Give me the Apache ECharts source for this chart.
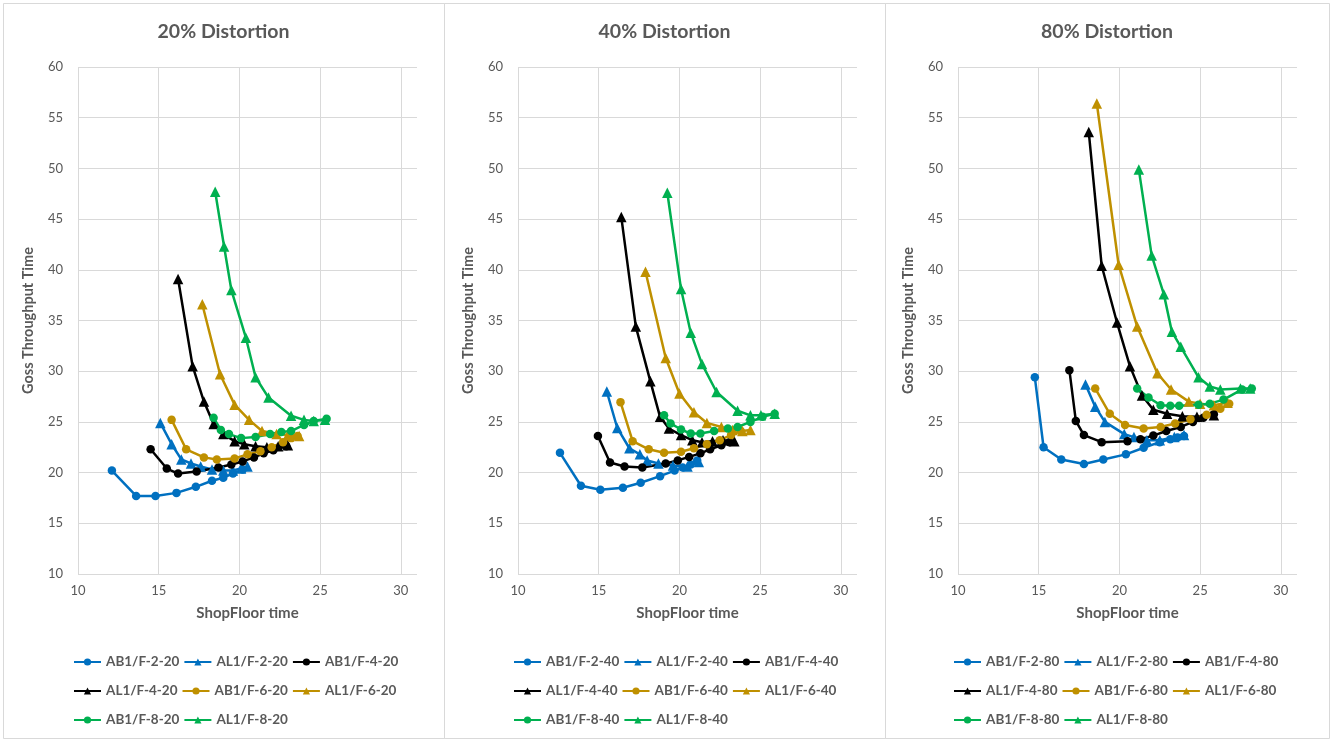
<!DOCTYPE html>
<html><head><meta charset="utf-8">
<script src="https://cdn.jsdelivr.net/npm/echarts@6/dist/echarts.min.js"></script>
<style>html,body{margin:0;padding:0;background:#fff}#c{width:1332px;height:744px}</style>
</head><body><div id="c"></div>
<script>
const panelTitles = ['20% Distortion', '40% Distortion', '80% Distortion'];
const panelSuffixes = ['20', '40', '80'];
const seriesBaseNames = ['AB1/F-2', 'AL1/F-2', 'AB1/F-4', 'AL1/F-4', 'AB1/F-6', 'AL1/F-6', 'AB1/F-8', 'AL1/F-8'];
const seriesColors = ['#0070C0', '#0070C0', '#000000', '#000000', '#BF9000', '#BF9000', '#00B050', '#00B050'];
const seriesSymbols = ['circle', 'triangle', 'circle', 'triangle', 'circle', 'triangle', 'circle', 'triangle'];
const xAxisName = 'ShopFloor time';
const yAxisName = 'Goss Throughput Time';
const xMin = 10, xMax = 31, xStep = 5;
const yMin = 10, yMax = 60, yStep = 5;

// 20% Distortion
const ab1_f2_20 = [[12.1,20.2],[13.6,17.7],[14.8,17.7],[16.1,18.0],[17.3,18.6],[18.3,19.2],[19.0,19.5],[19.6,19.9],[20.2,20.3]];
const al1_f2_20 = [[15.1,24.9],[15.8,22.8],[16.4,21.3],[17.0,20.9],[17.6,20.6],[18.3,20.3],[19.0,20.2],[19.6,20.2],[20.1,20.4],[20.5,20.6]];
const ab1_f4_20 = [[14.5,22.3],[15.5,20.4],[16.2,19.9],[17.35,20.1],[18.7,20.5],[19.5,20.8],[20.2,21.1],[20.9,21.5],[21.5,21.9],[22.1,22.2],[22.9,22.6]];
const al1_f4_20 = [[16.2,39.1],[17.1,30.5],[17.8,27.0],[18.4,24.8],[19.0,23.8],[19.7,23.1],[20.3,22.8],[21.0,22.6],[21.7,22.5],[22.4,22.6],[23.0,22.7]];
const ab1_f6_20 = [[15.8,25.2],[16.7,22.3],[17.8,21.5],[18.6,21.3],[19.7,21.4],[20.5,21.8],[21.3,22.1],[22.0,22.5],[22.7,23.0],[23.2,23.4],[23.6,23.6]];
const al1_f6_20 = [[17.7,36.6],[18.8,29.7],[19.7,26.7],[20.6,25.2],[21.4,24.1],[22.3,23.8],[23.0,23.7],[23.7,23.6]];
const ab1_f8_20 = [[18.4,25.4],[18.85,24.2],[19.35,23.8],[20.1,23.4],[21.0,23.5],[21.9,23.8],[22.6,24.0],[23.2,24.1],[24.0,24.7],[24.6,25.1],[25.4,25.3]];
const al1_f8_20 = [[18.5,47.7],[19.05,42.3],[19.5,38.0],[20.4,33.3],[21.0,29.4],[21.8,27.4],[23.2,25.6],[24.0,25.2],[24.6,25.1],[25.3,25.2]];

// 40% Distortion
const ab1_f2_40 = [[12.6,21.95],[13.9,18.7],[15.1,18.3],[16.5,18.5],[17.6,19.0],[18.8,19.65],[19.7,20.2],[20.2,20.5],[20.7,20.8],[21.1,21.2]];
const al1_f2_40 = [[15.5,28.0],[16.15,24.4],[16.9,22.4],[17.55,21.8],[18.0,21.2],[18.7,20.9],[19.6,20.7],[20.5,20.6],[21.2,21.05]];
const ab1_f4_40 = [[14.95,23.6],[15.7,21.0],[16.6,20.6],[17.7,20.5],[19.15,20.9],[19.9,21.2],[20.6,21.55],[21.3,21.9],[21.9,22.3],[22.6,22.7],[23.1,23.0]];
const al1_f4_40 = [[16.4,45.2],[17.3,34.4],[18.2,29.0],[18.8,25.5],[19.35,24.35],[20.1,23.7],[20.8,23.2],[21.4,23.0],[22.05,23.1],[22.7,23.2],[23.4,23.1]];
const ab1_f6_40 = [[16.35,26.95],[17.1,23.1],[18.1,22.3],[19.05,21.95],[20.1,22.05],[20.9,22.4],[21.7,22.8],[22.5,23.2],[23.2,23.7],[23.8,24.1]];
const al1_f6_40 = [[17.9,39.8],[19.15,31.3],[20.0,27.8],[20.9,25.95],[21.7,24.9],[22.6,24.5],[23.3,24.2],[23.9,24.1],[24.4,24.2]];
const ab1_f8_40 = [[19.05,25.65],[19.45,24.85],[20.1,24.25],[20.7,23.85],[21.3,23.85],[22.15,24.1],[23.0,24.35],[23.6,24.5],[24.4,25.0],[25.15,25.5],[25.9,25.8]];
const al1_f8_40 = [[19.25,47.6],[20.1,38.1],[20.7,33.8],[21.4,30.7],[22.3,27.95],[23.6,26.1],[24.4,25.65],[25.05,25.65],[25.9,25.8]];

// 80% Distortion
const ab1_f2_80 = [[14.76,29.4],[15.3,22.5],[16.4,21.3],[17.8,20.85],[19.0,21.3],[20.4,21.8],[21.5,22.45],[22.5,23.0],[23.15,23.3],[23.6,23.45],[24.0,23.6]];
const al1_f2_80 = [[17.9,28.7],[18.5,26.5],[19.1,25.0],[20.3,23.8],[20.9,23.5],[21.7,23.2],[22.5,23.2],[23.4,23.5],[24.0,23.7]];
const ab1_f4_80 = [[16.9,30.1],[17.3,25.1],[17.8,23.7],[18.9,23.0],[20.5,23.1],[21.3,23.3],[22.1,23.65],[22.9,24.1],[23.8,24.5],[24.55,25.0],[25.2,25.4],[25.85,25.75]];
const al1_f4_80 = [[18.1,53.6],[18.9,40.4],[19.85,34.8],[20.65,30.5],[21.4,27.6],[22.1,26.2],[22.95,25.8],[23.9,25.55],[24.8,25.5],[25.85,25.65]];
const ab1_f6_80 = [[18.5,28.3],[19.4,25.8],[20.35,24.7],[21.5,24.35],[22.55,24.5],[23.45,24.85],[24.4,25.25],[25.4,25.7],[26.25,26.3],[26.8,26.8]];
const al1_f6_80 = [[18.6,56.4],[19.95,40.5],[21.1,34.4],[22.35,29.8],[23.2,28.2],[24.3,27.0],[25.0,26.8],[25.85,26.65],[26.7,26.9]];
const ab1_f8_80 = [[21.1,28.3],[21.8,27.4],[22.55,26.65],[23.15,26.6],[23.7,26.6],[24.9,26.7],[25.6,26.8],[26.45,27.2],[27.6,28.2],[28.2,28.3]];
const al1_f8_80 = [[21.2,49.9],[22.0,41.4],[22.75,37.6],[23.25,33.9],[23.8,32.4],[24.9,29.4],[25.6,28.5],[26.25,28.2],[27.5,28.3],[28.1,28.3]];

const panelData = [
  [ab1_f2_20, al1_f2_20, ab1_f4_20, al1_f4_20, ab1_f6_20, al1_f6_20, ab1_f8_20, al1_f8_20],
  [ab1_f2_40, al1_f2_40, ab1_f4_40, al1_f4_40, ab1_f6_40, al1_f6_40, ab1_f8_40, al1_f8_40],
  [ab1_f2_80, al1_f2_80, ab1_f4_80, al1_f4_80, ab1_f6_80, al1_f6_80, ab1_f8_80, al1_f8_80]
];

const FONT = 'Lato, "Noto Sans", sans-serif';
const TXT = '#595959';
const GRIDC = '#d9d9d9';
const panelLeft = [3, 444, 885];
const panelRight = [444, 885, 1329];
const gridLeft = [78, 518, 958];
const gridWidth = 339;
const legendRowsTop = [655, 684, 713];

const grids = [], xAxes = [], yAxes = [], series = [], legends = [], graphics = [];
for (let p = 0; p < 3; p++) {
  graphics.push({type: 'rect', shape: {x: panelLeft[p] + 0.5, y: 3.5, width: panelRight[p] - panelLeft[p], height: 735},
    style: {fill: null, stroke: GRIDC, lineWidth: 1}, silent: true, z: -10});
  graphics.push({type: 'text', x: (panelLeft[p] + panelRight[p]) / 2, y: 32,
    style: {text: panelTitles[p], textAlign: 'center', textVerticalAlign: 'middle', fill: TXT,
      font: 'bold 19.5px ' + FONT}});
  grids.push({left: gridLeft[p], top: 67, width: gridWidth, height: 507});
  xAxes.push({type: 'value', gridIndex: p, min: xMin, max: xMax, interval: xStep,
    name: xAxisName, nameLocation: 'middle', nameGap: 32,
    nameTextStyle: {color: TXT, fontWeight: 'bold', fontSize: 15, fontFamily: FONT},
    axisLine: {show: false}, axisTick: {show: false},
    axisLabel: {color: TXT, fontSize: 13, fontFamily: FONT, margin: 10,
      formatter: v => (v % xStep === 0 ? String(v) : '')},
    splitLine: {show: true, showMaxLine: false, lineStyle: {color: GRIDC, width: 1}}});
  yAxes.push({type: 'value', gridIndex: p, min: yMin, max: yMax, interval: yStep,
    name: yAxisName, nameLocation: 'middle', nameGap: 42,
    nameTextStyle: {color: TXT, fontWeight: 'bold', fontSize: 14.5, fontFamily: FONT},
    axisLine: {show: false}, axisTick: {show: false},
    axisLabel: {color: TXT, fontSize: 13, fontFamily: FONT, margin: 15},
    splitLine: {show: true, lineStyle: {color: GRIDC, width: 1}}});
  const names = seriesBaseNames.map(n => n + '-' + panelSuffixes[p]);
  for (let s = 0; s < 8; s++) {
    series.push({type: 'line', name: names[s], xAxisIndex: p, yAxisIndex: p,
      data: panelData[p][s], symbol: seriesSymbols[s],
      symbolSize: seriesSymbols[s] === 'circle' ? 8.5 : 10.5,
      color: seriesColors[s],
      lineStyle: {width: 2.5, color: seriesColors[s]},
      itemStyle: {color: seriesColors[s]},
      animation: false});
  }
  const rows = [names.slice(0, 3), names.slice(3, 6), names.slice(6, 8)];
  rows.forEach((r, i) => {
    legends.push({data: r, left: gridLeft[p] - 5, top: legendRowsTop[i], padding: 0,
      itemWidth: 27, itemHeight: 9, itemGap: 4, selectedMode: false,
      textStyle: {color: TXT, fontWeight: 'bold', fontSize: 13.5, fontFamily: FONT, width: 68}});
  });
}

const chart = echarts.init(document.getElementById('c'), null, {renderer: 'canvas'});
chart.setOption({
  backgroundColor: '#fff',
  animation: false,
  grid: grids, xAxis: xAxes, yAxis: yAxes, series: series, legend: legends,
  graphic: graphics
});
</script></body></html>
